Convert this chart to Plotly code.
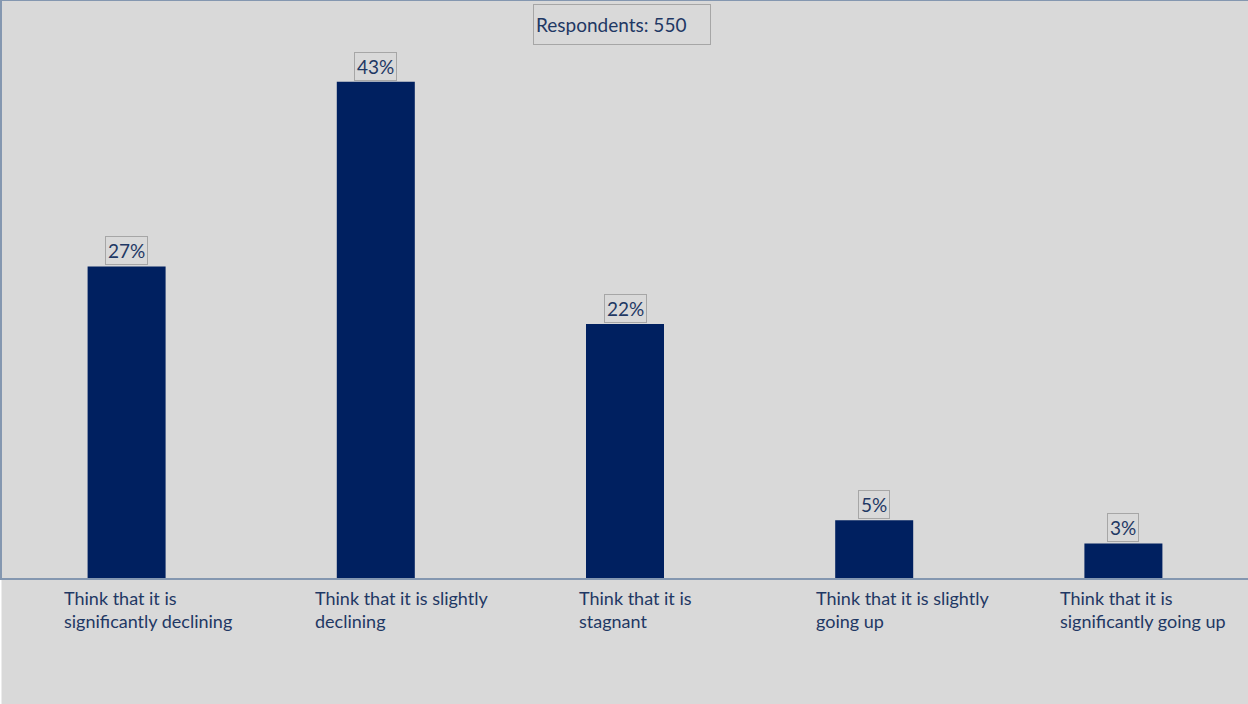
import plotly.graph_objects as go

# Survey answers and their shares (%)
categories = [
    "Think that it is<br>significantly declining",
    "Think that it is slightly<br>declining",
    "Think that it is<br>stagnant",
    "Think that it is slightly<br>going up",
    "Think that it is<br>significantly going up",
]
shares = [27, 43, 22, 5, 3]
respondents = 550

BG = "#d9d9d9"
BAR = "#002060"
TEXT = "#1f3864"
LINE = "#8497b0"
BOX = "#a6a6a6"
FONT = "Lato"

keys = [f"c{i}" for i in range(len(categories))]

fig = go.Figure(
    go.Bar(
        x=keys,
        y=shares,
        marker=dict(color=BAR, line=dict(width=0)),
        hoverinfo="skip",
    )
)

annotations = []

# value labels in thin boxes above each bar
for k, v in zip(keys, shares):
    annotations.append(dict(
        x=k, y=v, xref="x", yref="y",
        text=f"{v}%", showarrow=False,
        xanchor="center", yanchor="bottom", yshift=1,
        font=dict(family=FONT, size=19, color=TEXT),
        bordercolor=BOX, borderwidth=1, borderpad=2,
    ))

# category labels, left aligned under each bar
label_shift = [-65, -63, -48, -60, -65]
for k, c, dx in zip(keys, categories, label_shift):
    annotations.append(dict(
        x=k, y=0, xref="x", yref="paper",
        text=c, showarrow=False, align="left",
        xanchor="left", yanchor="top", xshift=dx, yshift=-7,
        font=dict(family=FONT, size=18, color=TEXT),
    ))

# respondents count box at the top
annotations.append(dict(
    x=(533 - 2) / 1246, y=1, xref="paper", yref="paper",
    text=f"Respondents: {respondents}", showarrow=False,
    xanchor="left", yanchor="top", yshift=-3,
    align="left", valign="middle", width=172, height=35,
    font=dict(family=FONT, size=19, color=TEXT),
    bordercolor=BOX, borderwidth=1, borderpad=2,
))

fig.update_layout(
    width=1248, height=704,
    margin=dict(l=2, r=0, t=1, b=126),
    paper_bgcolor=BG, plot_bgcolor=BG,
    bargap=0.687,
    showlegend=False,
    annotations=annotations,
    shapes=[dict(type="rect", xref="paper", yref="paper",
                 x0=-2 / 1246, x1=-0.5 / 1246, y0=-1, y1=2,
                 fillcolor="white", line=dict(width=0), layer="below")],
    xaxis=dict(showticklabels=False, ticks="", showgrid=False, zeroline=False,
               showline=True, linecolor=LINE, linewidth=1.5, mirror=True,
               fixedrange=True),
    yaxis=dict(range=[0, 50], showticklabels=False, ticks="", showgrid=False,
               zeroline=False, showline=True, linecolor=LINE, linewidth=1.5,
               fixedrange=True),
)

fig.write_html("out.html")
